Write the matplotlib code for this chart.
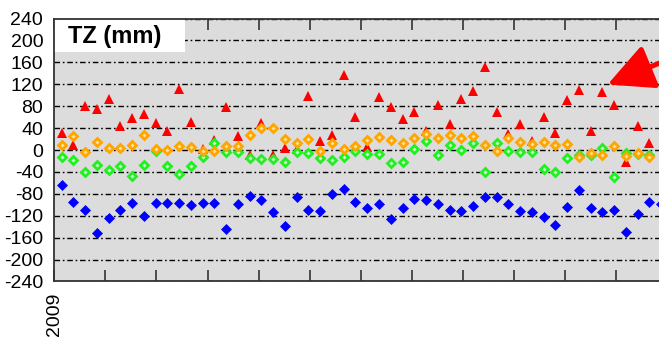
import numpy as np
import matplotlib
matplotlib.use("Agg")
import matplotlib.pyplot as plt
from matplotlib.patches import Rectangle

plt.rcParams['font.family'] = ['Liberation Sans', 'DejaVu Sans']
plt.rcParams['axes.unicode_minus'] = False

# weekly TZ values (mm)
red = [31, 10, 80, 74, 93, 43, 58, 66, 49, 35, 112, 52, 2, 19, 78, 26, -10, 50, -9, 4,
       2, 98, 16, 28, 136, 61, 5, 97, 78, 57, 69, 34, 83, 48, 94, 108, 152, 70, 29, 47,
       17, 61, 31, 92, 109, 35, 106, 83, -21, 43, 13]
orange = [10, 26, -4, 15, 4, 4, 9, 27, 2, 0, 8, 5, -2, -2, 8, 7, 28, 40, 40, 20,
          12, 20, -2, 12, 1, 7, 18, 23, 18, 13, 22, 29, 22, 28, 22, 25, 9, -2, 21, 14,
          11, 14, 10, 11, -12, -6, -10, 7, -11, -6, -12]
green = [-12, -18, -41, -28, -36, -30, -47, -27, -2, -29, -43, -30, -13, 12, -4, -3, -15, -17, -16, -21,
         -4, -6, -14, -18, -13, -1, -8, -7, -23, -21, 1, 17, -10, 10, 0, 12, -40, 12, -1, -4,
         -3, -35, -40, -15, -9, -10, 3, -50, -6, -8, -10]
blue = [-64, -94, -109, -152, -125, -109, -97, -120, -97, -96, -96, -100, -97, -97, -145, -99, -84, -91, -114, -139,
        -86, -109, -111, -80, -72, -95, -106, -99, -126, -106, -89, -91, -98, -110, -111, -102, -85, -85, -99, -111,
        -114, -122, -137, -104, -73, -105, -113, -110, -149, -116, -95, -99]

yticks = list(range(-240, 241, 40))
month_ticks = [2009 + k / 12 for k in range(13)]
month_labels = ['2009'] + [''] * 12

def weeks(n):
    return 2009 + (4.4 + 7 * np.arange(n)) / 365.0

fig = plt.figure(figsize=(6.59, 3.38), dpi=100)
ax = fig.add_axes([0.0824, 0.1672, 0.9299, 0.778])
ax.set_facecolor('#dcdcdc')

ax.plot(weeks(len(red)), red, '^', color='#ff0000', ms=7, mew=0, zorder=3)
ax.plot(weeks(len(green)), green, 'D', mfc='#c8ffc8', mec='#22ee22', mew=2, ms=4.5, zorder=4)
ax.plot(weeks(len(orange)), orange, 'D', mfc='#ffe0a0', mec='#ffa500', mew=2, ms=4.5, zorder=5)
ax.plot(weeks(len(blue)), blue, 'D', color='#0000ff', ms=5.5, mew=0.5, zorder=6)

ax.set_xlim(2009, 2010)
ax.set_ylim(-240, 240)
ax.set_yticks(yticks)
ax.set_yticklabels([str(v) for v in yticks], fontsize=14)
ax.set_xticks(month_ticks)
ax.set_xticklabels(month_labels, rotation=90, fontsize=14, va='top')
ax.tick_params(axis='y', length=0, pad=8)
ax.tick_params(axis='x', direction='in', length=8, width=1.2, top=True, bottom=True,
               color='#333333', pad=8)
ax.grid(axis='y', color='black', linestyle=(0, (4, 2, 1.2, 2)), linewidth=1)
ax.set_axisbelow(True)
for s in ax.spines.values():
    s.set_color('#333333')
    s.set_linewidth(1.3)

ax.add_patch(Rectangle((0, 0.872), 0.213, 0.128, transform=ax.transAxes,
                       facecolor='white', edgecolor='none', zorder=2.5))
ax.text(0.022, 0.933, 'TZ (mm)', transform=ax.transAxes, fontsize=17,
        fontweight='bold', va='center', ha='left', zorder=7)

ax.annotate('', xy=(0.922, 0.750), xycoords='figure fraction',
            xytext=(1.04, 0.845), textcoords='figure fraction',
            arrowprops=dict(arrowstyle='-|>,head_length=1.0,head_width=0.5',
                            color='#ff0000', lw=3.6, mutation_scale=28,
                            shrinkA=0, shrinkB=0),
            annotation_clip=False, zorder=8)

fig.savefig('out.png', dpi=100)
